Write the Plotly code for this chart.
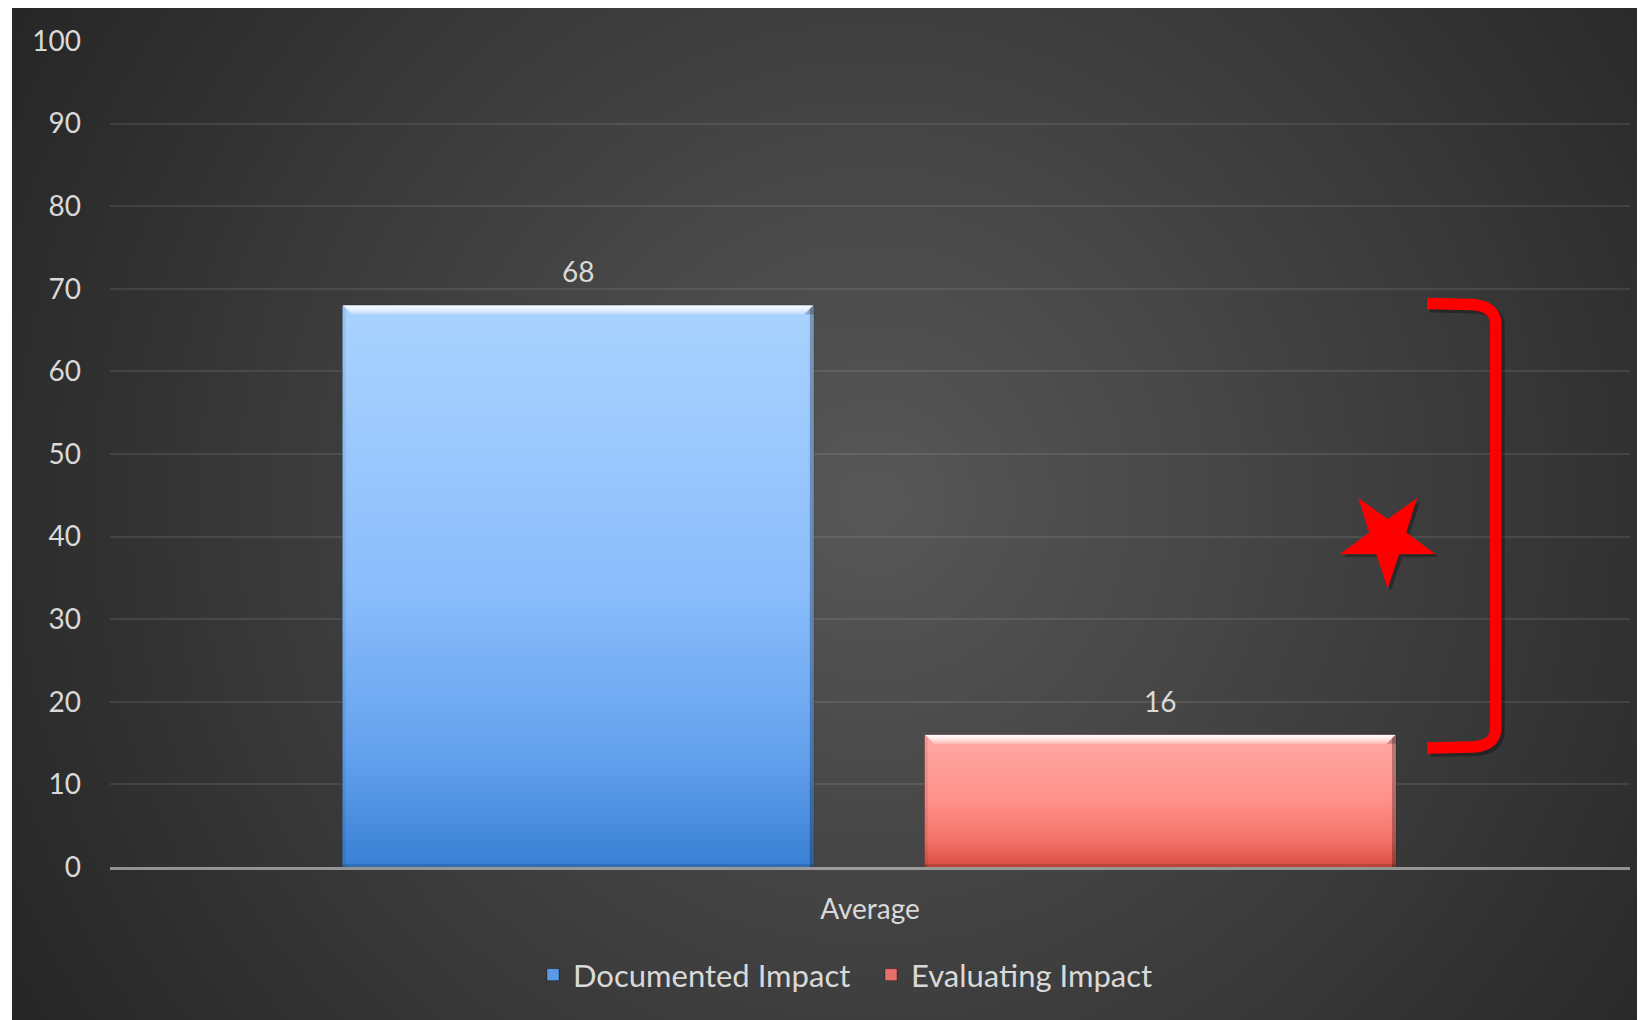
import base64
import struct
import zlib

import numpy as np
import plotly.graph_objects as go

# ---------------- data ----------------
categories = ["Average"]
series_names = ["Documented Impact", "Evaluating Impact"]
documented_values = [68]
evaluating_values = [16]
y_tick_values = [0, 10, 20, 30, 40, 50, 60, 70, 80, 90, 100]

# ---------------- style ----------------
W, H = 1645, 1020
PAGE = 8  # browser body margin
M_L, M_R, M_T, M_B = 110 - PAGE, 15 + PAGE, 41 - PAGE, 153 + PAGE
PLOT_W = W - M_L - M_R
PLOT_H = H - M_T - M_B
PX_PER_UNIT = PLOT_H / 100.0
FONT = "Lato, 'Open Sans', sans-serif"
TEXT_COLOR = "#d9d9d9"
FONT_SIZE = 28
LEGEND_FONT_SIZE = 31
BAR_WIDTH = 0.31
BAR_OFFSETS = [-0.347, 0.036]
BLUE_STOPS = [(0.0, (170, 211, 255)), (0.5, (140, 190, 252)), (0.8, (100, 162, 238)), (1.0, (58, 128, 212))]
RED_STOPS = [(0.0, (255, 170, 166)), (0.5, (255, 145, 138)), (0.8, (245, 115, 106)), (1.0, (218, 78, 68))]
LEGEND_COLORS = ["#5b9be6", "#e8706a"]


def png_data_uri(arr):
    arr = np.ascontiguousarray(arr.astype(np.uint8))
    h, w, _ = arr.shape
    raw = b"".join(b"\x00" + arr[r].tobytes() for r in range(h))

    def chunk(tag, data):
        c = struct.pack(">I", len(data)) + tag + data
        return c + struct.pack(">I", zlib.crc32(tag + data) & 0xFFFFFFFF)

    png = b"\x89PNG\r\n\x1a\n"
    png += chunk(b"IHDR", struct.pack(">IIBBBBB", w, h, 8, 2, 0, 0, 0))
    png += chunk(b"IDAT", zlib.compress(raw, 9))
    png += chunk(b"IEND", b"")
    return "data:image/png;base64," + base64.b64encode(png).decode()


BG_X0 = 12 - PAGE  # figure px where dark area starts
BG_Y0 = 0


def background_image():
    scale = 4
    bw, bh = (W - BG_X0) // scale, (H - BG_Y0) // scale
    cx, cy = (870 - PAGE - BG_X0) / scale, (500 - PAGE - BG_Y0) / scale
    yy, xx = np.mgrid[0:bh, 0:bw]
    d = np.sqrt((xx - cx) ** 2 + (yy - cy) ** 2) * scale
    v = np.clip(88 - 0.05 * d, 32, 90)
    img = np.stack([v, v, v], axis=-1)
    return png_data_uri(img)


def bar_image(value, stops):
    rows = max(int(round(value * PX_PER_UNIT)), 8)
    cols = int(round(BAR_WIDTH * PLOT_W))
    t = np.linspace(0, 1, rows)
    pos = [s[0] for s in stops]
    base = np.stack([np.interp(t, pos, [s[1][k] for s in stops]) for k in range(3)], axis=-1)
    img = np.repeat(base[:, None, :], cols, axis=1).astype(float)
    img[:, :3] = img[:, :3] * 0.92
    img[:, -4:] = img[:, -4:] * 0.72
    img[-3:] = img[-3:] * 0.85
    bev = 9
    for r in range(bev):
        f = 0.95 * (1 - r / bev) ** 0.6
        seg = img[r, r + 1:cols - r - 1]
        img[r, r + 1:cols - r - 1] = seg + (255 - seg) * f
        img[r, :r + 1] = img[bev, :r + 1] * 1.0
        img[r, cols - r - 1:] = img[bev, cols - r - 1:] * 0.8
    return png_data_uri(np.clip(img, 0, 255))


def px_to_paper_x(px):  # screen px -> paper x
    return (px - PAGE - M_L) / PLOT_W


def py_to_data_y(py):  # screen px -> data y
    return (H - M_B - (py - PAGE)) / PX_PER_UNIT


def py_to_paper_y(py):
    return (H - M_B - (py - PAGE)) / PLOT_H


# ---------------- figure ----------------
fig = go.Figure()
all_values = [documented_values, evaluating_values]
for name, vals, off, col in zip(series_names, all_values, BAR_OFFSETS, LEGEND_COLORS):
    fig.add_trace(go.Bar(
        name=name, x=categories, y=vals, width=BAR_WIDTH, offset=off,
        marker=dict(color=col, line=dict(color="rgba(0,0,0,0.35)", width=1)),
        hovertemplate="%{y}<extra>" + name + "</extra>",
    ))

images = [dict(
    source=background_image(), xref="paper", yref="paper",
    x=(BG_X0 - M_L) / PLOT_W, y=(H - M_B - BG_Y0) / PLOT_H,
    sizex=(W - BG_X0) / PLOT_W, sizey=(H - BG_Y0) / PLOT_H,
    xanchor="left", yanchor="top", sizing="stretch", layer="below",
)]
for vals, off, stops in zip(all_values, BAR_OFFSETS, [BLUE_STOPS, RED_STOPS]):
    for v in vals:
        images.append(dict(
            source=bar_image(v, stops), xref="x", yref="y",
            x=off, y=v, sizex=BAR_WIDTH, sizey=v,
            xanchor="left", yanchor="top", sizing="stretch", layer="above",
        ))

annotations = []
for vals, off in zip(all_values, BAR_OFFSETS):
    for v in vals:
        annotations.append(dict(
            x=off + BAR_WIDTH / 2, y=v, xref="x", yref="y", text=str(v),
            showarrow=False, yanchor="middle", yshift=34,
            font=dict(family=FONT, size=FONT_SIZE, color=TEXT_COLOR),
        ))

# bracket (decoration), defined in screen pixels and converted
bracket_px = [("M", 1427, 303.5), ("L", 1472, 304.5), ("Q", 1495.7, 306, 1495.7, 324),
              ("L", 1495.7, 728), ("Q", 1495.7, 746, 1472, 747), ("L", 1427, 748)]


def bracket_path(dx=0, dy=0):
    parts = []
    for seg in bracket_px:
        nums = seg[1:]
        pts = []
        for i in range(0, len(nums), 2):
            pts.append(f"{px_to_paper_x(nums[i] + dx):.5f},{py_to_data_y(nums[i + 1] + dy):.4f}")
        parts.append(seg[0] + " " + " ".join(pts))
    return " ".join(parts)


def star_path(r_out, r_in, dx=0, dy=0):
    pts = []
    for k in range(10):
        ang = np.deg2rad(-90 + 36 * k)
        r = r_out if k % 2 == 0 else r_in
        pts.append(f"{r * np.cos(ang) + dx:.2f},{r * np.sin(ang) + dy:.2f}")
    return "M " + " L ".join(pts) + " Z"


STAR_CX, STAR_CY = px_to_paper_x(1387.7), py_to_data_y(538.5)
shapes = [
    dict(type="path", xref="paper", yref="y", path=bracket_path(3, 3),
         line=dict(color="rgba(0,0,0,0.3)", width=12), layer="above"),
    dict(type="path", xref="paper", yref="y", path=bracket_path(),
         line=dict(color="#ff0000", width=11.5), layer="above"),
    dict(type="path", xref="paper", yref="y", xsizemode="pixel", ysizemode="pixel",
         xanchor=STAR_CX, yanchor=STAR_CY, path=star_path(50, 19.5, 3, -3),
         fillcolor="rgba(0,0,0,0.3)", line=dict(width=0), layer="above"),
    dict(type="path", xref="paper", yref="y", xsizemode="pixel", ysizemode="pixel",
         xanchor=STAR_CX, yanchor=STAR_CY,
         path=star_path(50, 19.5), fillcolor="#ff0000", line=dict(width=0), layer="above"),
]

fig.update_layout(
    width=W, height=H,
    margin=dict(l=M_L, r=M_R, t=M_T, b=M_B, pad=0),
    paper_bgcolor="#ffffff", plot_bgcolor="rgba(0,0,0,0)",
    font=dict(family=FONT, size=FONT_SIZE, color=TEXT_COLOR),
    barmode="group",
    showlegend=True,
    legend=dict(orientation="h", x=px_to_paper_x(533), xanchor="left",
                y=py_to_paper_y(975), yanchor="middle",
                font=dict(family=FONT, size=LEGEND_FONT_SIZE, color=TEXT_COLOR),
                bgcolor="rgba(0,0,0,0)", itemwidth=30,
                entrywidth=293, entrywidthmode="pixels"),
    images=images, annotations=annotations, shapes=shapes,
    xaxis=dict(type="category", range=[-0.5, 0.5], showgrid=False, zeroline=False,
               showline=True, linecolor="rgba(200,200,200,0.65)", linewidth=2.5,
               layer="above traces", ticks="", ticklabelstandoff=16,
               tickfont=dict(family=FONT, size=FONT_SIZE, color=TEXT_COLOR)),
    yaxis=dict(range=[0, 100], tickvals=y_tick_values, showgrid=True,
               gridcolor="rgba(255,255,255,0.09)", gridwidth=1.5, zeroline=False,
               showline=False, ticks="", ticklabelstandoff=28,
               tickfont=dict(family=FONT, size=FONT_SIZE, color=TEXT_COLOR)),
)

fig.write_html("out.html")
